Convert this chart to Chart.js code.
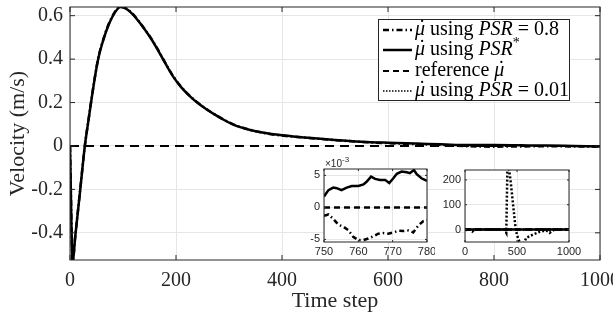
<!DOCTYPE html>
<html><head><meta charset="utf-8">
<script src="https://cdn.jsdelivr.net/npm/chart.js@4.4.0/dist/chart.umd.min.js"></script>
<style>
html,body{margin:0;padding:0;background:#fff;}
#wrap{position:relative;width:613px;height:322px;overflow:hidden;}
canvas{position:absolute;display:block;}
</style></head><body>
<div id="wrap">
<canvas id="main" width="613" height="322" style="left:0;top:0;width:613px;height:322px"></canvas>
<canvas id="in1" width="135" height="110" style="left:300px;top:155px;width:135px;height:110px"></canvas>
<canvas id="in2" width="150" height="110" style="left:440px;top:155px;width:150px;height:110px"></canvas>
</div>
<script>
// ---------------- data ----------------
const steps = [0, 5, 10, 15, 20, 28, 35, 40, 50, 55, 60, 70, 80, 90, 95, 100, 110, 120, 132, 150, 164, 180, 195, 210, 226, 240, 258, 275, 289, 305, 321, 340, 360, 380, 400, 425, 450, 500, 550, 600, 650, 700, 750, 800, 850, 900, 950, 1000];
const velPSRstar = [0, -0.53, -0.415, -0.3, -0.185, 0, 0.12, 0.205, 0.36, 0.42, 0.465, 0.54, 0.595, 0.632, 0.64, 0.638, 0.625, 0.602, 0.566, 0.505, 0.45, 0.38, 0.318, 0.27, 0.23, 0.2, 0.168, 0.142, 0.122, 0.102, 0.087, 0.074, 0.063, 0.055, 0.049, 0.043, 0.038, 0.028, 0.02, 0.015, 0.011, 0.008, 0.004, 0.004, 0.003, 0.002, 0, -0.002];
const velPSR08 = [0, -0.53, -0.413, -0.298, -0.183, 0.002, 0.122, 0.207, 0.362, 0.423, 0.468, 0.543, 0.598, 0.635, 0.642, 0.64, 0.627, 0.604, 0.568, 0.507, 0.452, 0.382, 0.32, 0.272, 0.231, 0.201, 0.169, 0.143, 0.123, 0.103, 0.088, 0.074, 0.063, 0.054, 0.048, 0.042, 0.037, 0.027, 0.019, 0.013, 0.009, 0.005, -0.001, -0.003, -0.002, -0.001, -0.002, -0.003];
const refSteps = [0, 1000];
const refVel = [0, 0];

// inset 1 (x 1e-3)
const zoomStepsStar = [750, 751.3, 752.7, 753.7, 755.1, 756.6, 758.1, 760, 761.5, 762.4, 763.7, 764.9, 766.3, 767.8, 769, 770.2, 771.2, 772.6, 774.1, 775, 776.2, 777, 778.4, 780];
const zoomPSRstar = [1.7, 2.7, 3.1, 3.0, 2.7, 3.1, 3.35, 3.35, 3.6, 4.0, 4.8, 4.45, 4.3, 4.3, 3.8, 4.55, 5.25, 5.6, 5.5, 5.35, 5.85, 5.2, 4.55, 4.15];
const zoomSteps08 = [750, 751.3, 752.7, 754.2, 755.6, 757.1, 758.5, 760, 761.5, 762.9, 764.4, 765.8, 767.3, 768.7, 770.2, 771.7, 773.1, 774.6, 776, 777.5, 778.9, 780];
const zoomPSR08 = [-1.3, -1.1, -1.8, -2.7, -3.0, -3.55, -4.6, -5.1, -5.1, -4.85, -4.5, -4.1, -4.0, -4.1, -3.9, -3.65, -3.7, -3.6, -3.9, -2.8, -2.15, -2.0];
const zoomRefSteps = [750, 780];
const zoomRef = [0, 0];

// inset 2 (PSR = 0.01)
const psr001Steps = [0, 50, 70, 90, 150, 250, 350, 380, 397, 410, 425, 440, 460, 480, 490, 510, 530, 550, 570, 590, 620, 654, 690, 718, 750, 782, 800, 814, 840, 862, 900, 1000];
const psr001Vel = [0, 0, -8, 0, 0, 0, 0, 0, -13, 300, 240, 190, 110, 30, -5, -35, -55, -62, -50, -33, -27, -20, -14, -9, -6, -4, -8, -13, -5, 0, 0, 0];

// ticks
const mainXTicks = [0, 200, 400, 600, 800, 1000];
const mainYTicks = [-0.4, -0.2, 0, 0.2, 0.4, 0.6];
const in1XTicks = [750, 760, 770, 780];
const in1YTicks = [-5, 0, 5];
const in2XTicks = [0, 500, 1000];
const in2YTicks = [0, 100, 200];

const legendLabels = ['\u03BC\u0307 using PSR = 0.8', '\u03BC\u0307 using PSR*', 'reference \u03BC\u0307', '\u03BC\u0307 using PSR = 0.01'];

// ---------------- helpers ----------------
const pts = (xs, ys) => xs.map((x, i) => ({x: x, y: ys[i]}));
const AX = '#262626';
const GRID = '#e6e6e6';
const DASHDOT = [6, 3, 1.5, 3];

function setTicks(arr) { return s => { s.ticks = arr.map(v => ({value: v})); }; }

function framePlugin(tickLen, fillWhite) {
  return {
    id: 'frame',
    beforeDraw(chart) {
      if (!fillWhite) return;
      const a = chart.chartArea, ctx = chart.ctx;
      ctx.save(); ctx.fillStyle = '#fff';
      ctx.fillRect(a.left, a.top, a.right - a.left, a.bottom - a.top);
      ctx.restore();
    },
    afterDatasetsDraw(chart) {
      const a = chart.chartArea, ctx = chart.ctx, x = chart.scales.x, y = chart.scales.y;
      ctx.save();
      ctx.strokeStyle = AX; ctx.lineWidth = 1; ctx.setLineDash([]);
      ctx.strokeRect(a.left, a.top, a.right - a.left, a.bottom - a.top);
      ctx.beginPath();
      x.ticks.forEach(t => {
        const p = x.getPixelForValue(t.value);
        ctx.moveTo(p, a.bottom); ctx.lineTo(p, a.bottom - tickLen);
        ctx.moveTo(p, a.top); ctx.lineTo(p, a.top + tickLen);
      });
      y.ticks.forEach(t => {
        const p = y.getPixelForValue(t.value);
        ctx.moveTo(a.left, p); ctx.lineTo(a.left + tickLen, p);
        ctx.moveTo(a.right, p); ctx.lineTo(a.right - tickLen, p);
      });
      ctx.stroke();
      ctx.restore();
    }
  };
}

function line(data, width, dash, extra) {
  return Object.assign({
    data: data, borderColor: '#000', backgroundColor: '#000', borderWidth: width,
    borderDash: dash, pointRadius: 0, fill: false, tension: 0, clip: 0
  }, extra || {});
}

// ---------------- main chart ----------------
const SERIF = "'Liberation Serif', 'Times New Roman', serif";

const legendPlugin = {
  id: 'mathLegend',
  afterDraw(chart) {
    const ctx = chart.ctx;
    const bx = 378, by = 19, bw = 191, bh = 81;
    ctx.save();
    ctx.fillStyle = '#fff'; ctx.fillRect(bx, by, bw, bh);
    ctx.strokeStyle = AX; ctx.lineWidth = 1; ctx.setLineDash([]);
    ctx.strokeRect(bx + 0.5, by + 0.5, bw, bh);
    const rowsY = [30, 50, 71, 91];
    const styles = [
      {w: 2.5, d: DASHDOT},
      {w: 2.5, d: []},
      {w: 2, d: [6, 4]},
      {w: 1.5, d: [1.5, 1.5]}
    ];
    const fs = 20;
    const up = fs + 'px ' + SERIF, it = 'italic ' + fs + 'px ' + SERIF, sup = '14px ' + SERIF;
    // part: [text, font, dy, isMu, gapAfter]
    const mu = ['\u03BC', it, 0, true];
    const rows = [
      [mu, [' using ', up], ['PSR', it, 0, false, 5], ['=', up, 0, false, 5], ['0.8', up]],
      [mu, [' using ', up], ['PSR', it], ['*', sup, -8]],
      [['reference ', up], mu],
      [mu, [' using ', up], ['PSR', it, 0, false, 5], ['=', up, 0, false, 5], ['0.01', up]]
    ];
    rows.forEach((parts, i) => {
      const yy = rowsY[i];
      ctx.beginPath(); ctx.strokeStyle = '#000'; ctx.lineWidth = styles[i].w; ctx.setLineDash(styles[i].d);
      ctx.moveTo(383, yy); ctx.lineTo(412, yy); ctx.stroke();
      ctx.setLineDash([]);
      ctx.fillStyle = '#000'; ctx.textBaseline = 'alphabetic'; ctx.textAlign = 'left';
      let xx = 415;
      const base = yy + 5;
      parts.forEach(p => {
        ctx.font = p[1];
        const w = ctx.measureText(p[0]).width;
        ctx.fillText(p[0], xx, base + (p[2] || 0));
        if (p[3]) {
          ctx.font = up; ctx.textAlign = 'center';
          ctx.fillText('\u02D9', xx + w / 2 + 2, base - 1);
          ctx.textAlign = 'left';
        }
        xx += w + (p[4] || 0);
      });
    });
    ctx.restore();
  }
};

new Chart(document.getElementById('main'), {
  type: 'line',
  data: {
    datasets: [
      line(pts(steps, velPSR08), 2.5, DASHDOT, {label: legendLabels[0], cubicInterpolationMode: 'monotone'}),
      line(pts(steps, velPSRstar), 2.5, [], {label: legendLabels[1], cubicInterpolationMode: 'monotone'}),
      line(pts(refSteps, refVel), 2, [9, 6], {label: legendLabels[2]}),
      line([], 1.5, [1.5, 1.5], {label: legendLabels[3]})
    ]
  },
  options: {
    responsive: false, animation: false, events: [],
    layout: {padding: {left: 0, top: 7, right: 13, bottom: 0}},
    plugins: {legend: {display: false}, tooltip: {enabled: false}},
    scales: {
      x: {
        type: 'linear', min: 0, max: 1000,
        afterBuildTicks: setTicks(mainXTicks),
        afterFit: s => { s.height = 62; s.paddingLeft = 0; s.paddingRight = 0; },
        grid: {color: GRID, drawTicks: false},
        border: {display: false},
        ticks: {color: AX, font: {family: SERIF, size: 20}, padding: 9, maxRotation: 0, autoSkip: false, callback: v => String(v)},
        title: {display: true, text: 'Time step', color: AX, font: {family: SERIF, size: 22}, padding: {top: 0, bottom: 8}}
      },
      y: {
        type: 'linear', min: -0.525, max: 0.64,
        afterBuildTicks: setTicks(mainYTicks),
        afterFit: s => { s.width = 70; s.paddingTop = 0; s.paddingBottom = 0; },
        grid: {color: GRID, drawTicks: false},
        border: {display: false},
        ticks: {color: AX, font: {family: SERIF, size: 20}, padding: 7, autoSkip: false, callback: v => String(v)},
        title: {display: true, text: 'Velocity (m/s)', color: AX, font: {family: SERIF, size: 22}, padding: {top: 5, bottom: 0}}
      }
    }
  },
  plugins: [framePlugin(5, false), legendPlugin]
});

// ---------------- inset 1 ----------------
const SANS = "'Liberation Sans', Arial, Helvetica, sans-serif";
const expPlugin = {
  id: 'exp',
  afterDraw(chart) {
    const a = chart.chartArea, ctx = chart.ctx;
    ctx.save(); ctx.fillStyle = AX; ctx.textBaseline = 'alphabetic';
    ctx.font = '10px ' + SANS;
    ctx.fillText('\u00D710', a.left + 1, a.top - 2);
    const w = ctx.measureText('\u00D710').width;
    ctx.font = '8px ' + SANS;
    ctx.fillText('-3', a.left + 1 + w, a.top - 7);
    ctx.restore();
  }
};

new Chart(document.getElementById('in1'), {
  type: 'line',
  data: {
    datasets: [
      line(pts(zoomSteps08, zoomPSR08), 2.5, [5, 3, 1.5, 3]),
      line(pts(zoomStepsStar, zoomPSRstar), 2.5, []),
      line(pts(zoomRefSteps, zoomRef), 2.5, [6, 4])
    ]
  },
  options: {
    responsive: false, animation: false, events: [],
    layout: {padding: {left: 0, top: 14, right: 8, bottom: 0}},
    plugins: {legend: {display: false}, tooltip: {enabled: false}},
    scales: {
      x: {
        type: 'linear', min: 750, max: 780,
        afterBuildTicks: setTicks(in1XTicks),
        afterFit: s => { s.height = 23; s.paddingLeft = 0; s.paddingRight = 0; },
        grid: {color: GRID, drawTicks: false}, border: {display: false},
        ticks: {color: AX, font: {family: SANS, size: 11}, padding: 3, maxRotation: 0, autoSkip: false, callback: v => String(v)}
      },
      y: {
        type: 'linear', min: -5.4, max: 6,
        afterBuildTicks: setTicks(in1YTicks),
        afterFit: s => { s.width = 24; s.paddingTop = 0; s.paddingBottom = 0; },
        grid: {color: GRID, drawTicks: false}, border: {display: false},
        ticks: {color: AX, font: {family: SANS, size: 11}, padding: 4, autoSkip: false, callback: v => String(v)}
      }
    }
  },
  plugins: [framePlugin(2, true), expPlugin]
});

// ---------------- inset 2 ----------------
new Chart(document.getElementById('in2'), {
  type: 'line',
  data: {
    datasets: [
      line(pts(steps, velPSR08), 2.5, [5, 3, 1.5, 3]),
      line(pts(steps, velPSRstar), 2.5, []),
      line(pts(refSteps, refVel), 2.5, [6, 4]),
      line(pts(psr001Steps, psr001Vel), 2.5, [2, 2])
    ]
  },
  options: {
    responsive: false, animation: false, events: [],
    layout: {padding: {left: 0, top: 15, right: 21, bottom: 0}},
    plugins: {legend: {display: false}, tooltip: {enabled: false}},
    scales: {
      x: {
        type: 'linear', min: 0, max: 1000,
        afterBuildTicks: setTicks(in2XTicks),
        afterFit: s => { s.height = 23; s.paddingLeft = 0; s.paddingRight = 0; },
        grid: {color: GRID, drawTicks: false}, border: {display: false},
        ticks: {color: AX, font: {family: SANS, size: 11}, padding: 3, maxRotation: 0, autoSkip: false, callback: v => String(v)}
      },
      y: {
        type: 'linear', min: -50, max: 240,
        afterBuildTicks: setTicks(in2YTicks),
        afterFit: s => { s.width = 25; s.paddingTop = 0; s.paddingBottom = 0; },
        grid: {color: GRID, drawTicks: false}, border: {display: false},
        ticks: {color: AX, font: {family: SANS, size: 11}, padding: 4, autoSkip: false, callback: v => String(v)}
      }
    }
  },
  plugins: [framePlugin(2, true)]
});
</script>
</body></html>
